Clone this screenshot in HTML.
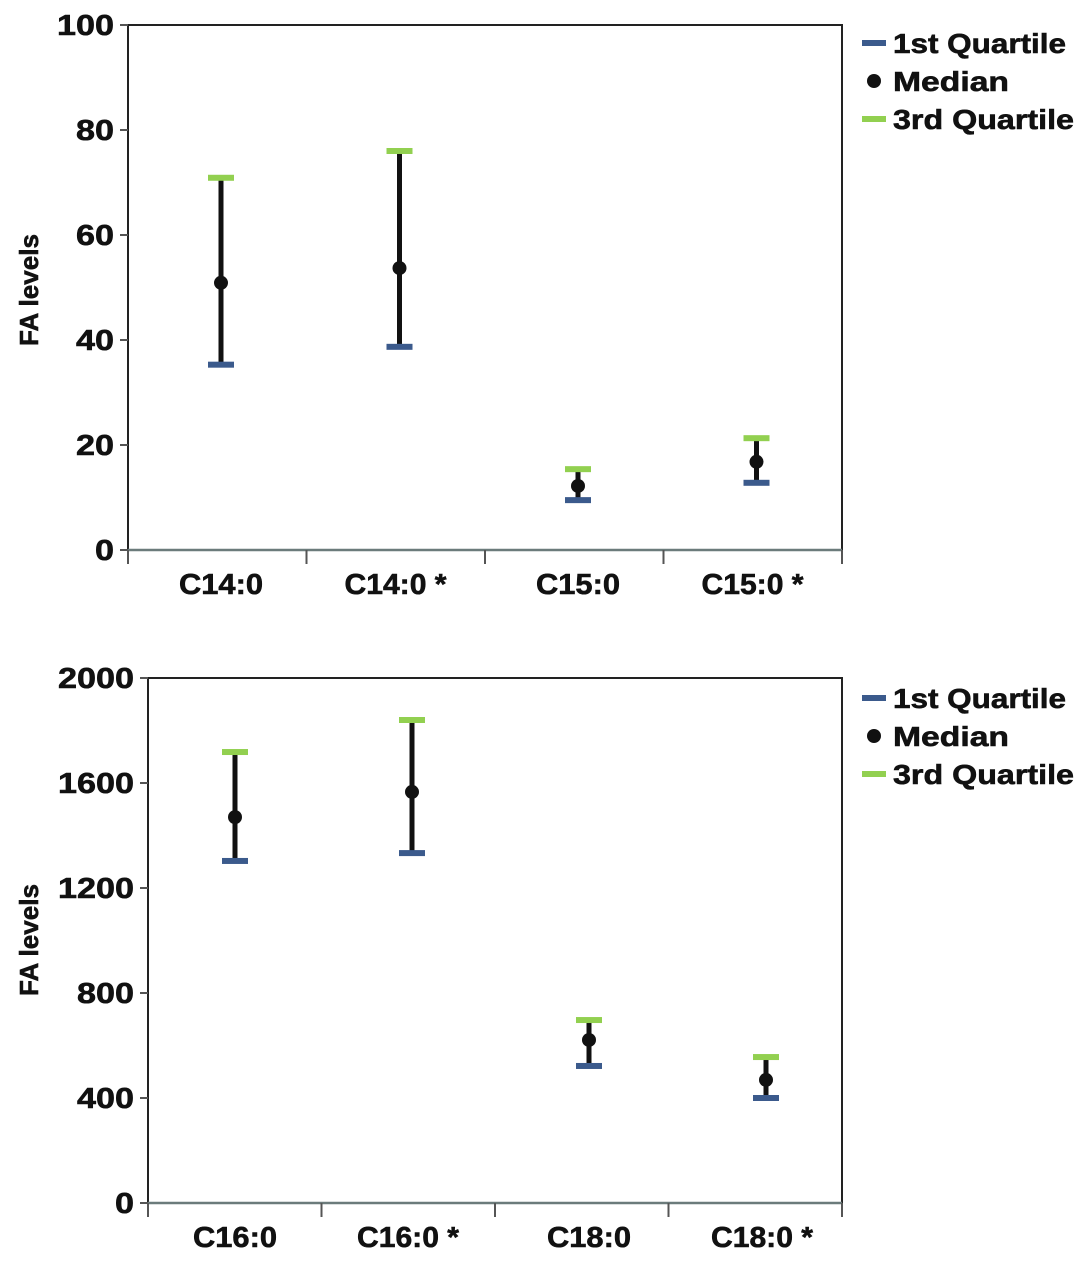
<!DOCTYPE html>
<html><head><meta charset="utf-8"><style>
body{margin:0;background:#fff;}
svg text{font-family:"Liberation Sans",sans-serif;font-weight:bold;fill:#111;stroke:#111;stroke-width:0.6;}
</style></head><body>
<svg id="svg" width="1087" height="1258" xmlns="http://www.w3.org/2000/svg"></svg>
<script>
const cats1 = ["C14:0","C14:0 *","C15:0","C15:0 *"];
const q1_1 = [35.3, 38.7, 9.5, 12.8];
const med1 = [50.9, 53.7, 12.2, 16.8];
const q3_1 = [70.9, 76.0, 15.4, 21.3];
const ticks1 = [0,20,40,60,80,100];

const cats2 = ["C16:0","C16:0 *","C18:0","C18:0 *"];
const q1_2 = [1303, 1333, 522, 400];
const med2 = [1470, 1566, 621, 469];
const q3_2 = [1718, 1840, 697, 556];
const ticks2 = [0,400,800,1200,1600,2000];

const NS="http://www.w3.org/2000/svg";
const svg=document.getElementById('svg');
function mk(tag,attrs,parent,text){const e=document.createElementNS(NS,tag);for(const k in attrs)e.setAttribute(k,attrs[k]);if(text!==undefined)e.textContent=text;(parent||svg).appendChild(e);return e;}

function drawChart(p){
  const g=mk('g',{});
  
  
  const {x0,x1,y0,y1,max}=p;
  const ys=v=>y0-(v/max)*(y0-y1);
  const bw=(x1-x0)/p.cats.length;
  const xs=i=>p.c0+p.sp*i;
  const box=mk('rect',{x:x0,y:y1,width:x1-x0,height:y0-y1,fill:'none',stroke:'#222','stroke-width':2},g);
  
  
  mk('line',{x1:x0,y1:y0,x2:x1,y2:y0,stroke:'#6b7b7b','stroke-width':2.5},g);
  p.ticks.forEach(t=>{
    mk('line',{x1:x0-8,y1:ys(t),x2:x0,y2:ys(t),stroke:'#555','stroke-width':2},g);
    const s=String(t);
    const tl=mk('text',{x:x0-14,y:ys(t)+10,'text-anchor':'end','font-size':29,textLength:s.length*19,lengthAdjust:'spacingAndGlyphs'},g,s);
    
    
  });
  for(let i=0;i<=p.cats.length;i++){mk('line',{x1:x0+bw*i,y1:y0,x2:x0+bw*i,y2:y0+14,stroke:'#555','stroke-width':2},g);}
  p.cats.forEach((c,i)=>{
    const x=xs(i);
    const xl=mk('text',{x:c.length>6?x-4:x,y:y0+44,'text-anchor':'middle','font-size':29,textLength:c.length>6?102:84,lengthAdjust:'spacingAndGlyphs'},g,c);
    
    
    const l=mk('line',{x1:x,y1:ys(p.q3[i]),x2:x,y2:ys(p.q1[i]),stroke:'#111','stroke-width':5},g);
    
    
    const a=mk('rect',{x:x-13,y:ys(p.q3[i])-3,width:26,height:6,fill:'#92d050'},g);
    
    
    const b=mk('rect',{x:x-13,y:ys(p.q1[i])-3,width:26,height:6,fill:'#3b5a8c'},g);
    
    
    const m=mk('circle',{cx:x,cy:ys(p.med[i]),r:7,fill:'#111'},g);
    
    
  });
  const yt=mk('text',{x:0,y:0,'text-anchor':'middle','font-size':26,textLength:112,lengthAdjust:'spacingAndGlyphs',transform:`translate(${p.tx},${p.ty}) rotate(-90)`},g,'FA levels');
  
  
  const lg=mk('g',{},g);
  
  
  const L=p.ly;
  mk('rect',{x:862,y:L-3,width:24,height:6,fill:'#3b5a8c'},lg);
  mk('text',{x:893,y:L+10,'font-size':28,textLength:173,lengthAdjust:'spacingAndGlyphs'},lg,'1st Quartile');
  mk('circle',{cx:874,cy:L+38,r:7,fill:'#111'},lg);
  mk('text',{x:893,y:L+48,'font-size':28,textLength:116,lengthAdjust:'spacingAndGlyphs'},lg,'Median');
  mk('rect',{x:862,y:L+73,width:24,height:6,fill:'#92d050'},lg);
  mk('text',{x:893,y:L+86,'font-size':28,textLength:181,lengthAdjust:'spacingAndGlyphs'},lg,'3rd Quartile');
}
drawChart({name:'chart-top',x0:128,x1:842,y0:550,y1:25,max:100,c0:221,sp:178.5,cats:cats1,q1:q1_1,med:med1,q3:q3_1,ticks:ticks1,tx:38,ty:290,ly:43});
drawChart({name:'chart-bottom',x0:148,x1:842,y0:1203,y1:678,max:2000,c0:235,sp:177,cats:cats2,q1:q1_2,med:med2,q3:q3_2,ticks:ticks2,tx:38,ty:940,ly:698});
</script>
</body></html>
